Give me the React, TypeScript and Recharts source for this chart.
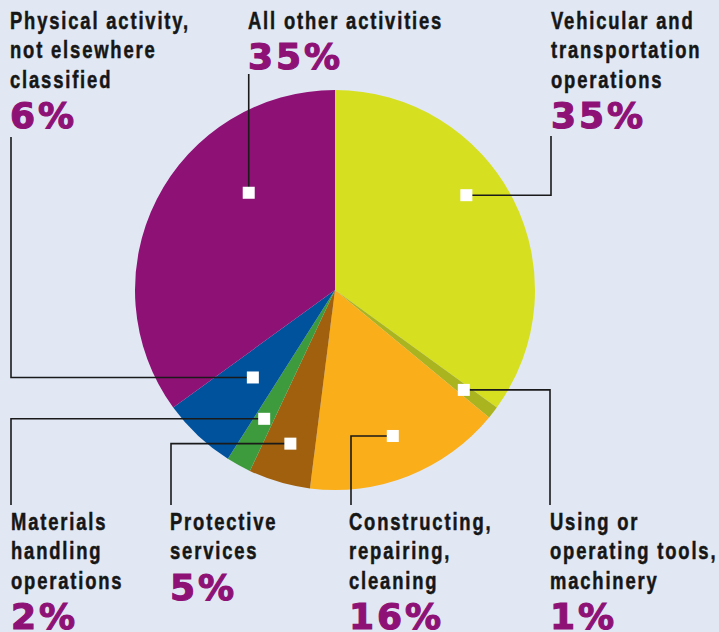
import React from 'react';
import { PieChart, Pie, Cell } from 'recharts';

// values (percent of cases)
const categories = [
  'Vehicular and transportation operations',
  'Using or operating tools, machinery',
  'Constructing, repairing, cleaning',
  'Protective services',
  'Materials handling operations',
  'Physical activity, not elsewhere classified',
  'All other activities',
];
const shares = [35, 1, 16, 5, 2, 6, 35];
const labelLines = [
  ['Vehicular and', 'transportation', 'operations'],
  ['Using or', 'operating tools,', 'machinery'],
  ['Constructing,', 'repairing,', 'cleaning'],
  ['Protective', 'services'],
  ['Materials', 'handling', 'operations'],
  ['Physical activity,', 'not elsewhere', 'classified'],
  ['All other activities'],
];
const colors = ['#d7df21', '#a9b41f', '#f9ae1a', '#a1600e', '#3e9b3d', '#00529c', '#8e1176'];

// where the white marker sits in each slice, and where the callout text goes
const layout = [
  { at: 0.43, r: 0.81, lineX: 551, endY: 136, textX: 551, textY: 29 },
  { at: 0.5, r: 0.815, lineX: 550, endY: 505, textX: 550, textY: 530 },
  { at: 0.5, r: 0.785, lineX: 351, endY: 505, textX: 349, textY: 530 },
  { at: 0.5, r: 0.8, lineX: 171, endY: 505, textX: 170, textY: 530 },
  { at: 0.5, r: 0.735, lineX: 11, endY: 505, textX: 11, textY: 530 },
  { at: 0.5, r: 0.6, lineX: 11, endY: 137, textX: 10, textY: 29 },
  { at: 0.67, r: 0.65, lineX: null, endY: 74, textX: 248, textY: 29 },
];

const data = categories.map((name, i) => ({ name, value: shares[i] }));

const RADIAN = Math.PI / 180;
const LINE_H = 29.5;
const SQUEEZE = 0.8; // condensed look for the label face

const renderCallout = (props: any) => {
  const { cx, cy, outerRadius, startAngle, endAngle, midAngle, index } = props;
  const l = layout[index];
  const ang =
    startAngle !== undefined && endAngle !== undefined
      ? startAngle + (endAngle - startAngle) * l.at
      : midAngle;
  const mx = cx + outerRadius * l.r * Math.cos(-ang * RADIAN);
  const my = cy + outerRadius * l.r * Math.sin(-ang * RADIAN);
  const lx = l.lineX === null ? mx : l.lineX;
  const lines = labelLines[index];
  const pctY = l.textY + (lines.length - 1) * LINE_H + 40;
  return (
    <g key={`callout-${index}`}>
      <polyline
        points={`${mx},${my} ${lx},${my} ${lx},${l.endY}`}
        fill="none"
        stroke="#1a1a1a"
        strokeWidth={1.6}
      />
      <rect x={mx - 6} y={my - 6} width={12} height={12} fill="#ffffff" />
      <g transform={`translate(${l.textX},0) scale(${SQUEEZE},1)`}>
        <text
          x={0}
          y={l.textY}
          fill="#161616"
          stroke="#161616"
          strokeWidth={0.5}
          fontFamily="'Liberation Sans', Arial, sans-serif"
          fontWeight={700}
          fontSize={23}
          letterSpacing={2.3}
        >
          {lines.map((t, k) => (
            <tspan key={k} x={0} y={l.textY + k * LINE_H}>
              {t}
            </tspan>
          ))}
        </text>
      </g>
      <text
        x={l.textX}
        y={pctY}
        fill="#8e1176"
        stroke="#8e1176"
        strokeWidth={1.2}
        fontFamily="'DejaVu Sans', sans-serif"
        fontWeight={700}
        fontSize={36}
        letterSpacing={3}
      >
        {`${shares[index]}%`}
      </text>
    </g>
  );
};

export default function App() {
  return (
    <div
      style={{
        position: 'fixed',
        top: 0,
        left: 0,
        width: 719,
        height: 632,
        background: '#e1e8f4',
      }}
    >
      <PieChart width={719} height={632} margin={{ top: 0, right: 0, bottom: 0, left: 0 }}>
        <Pie
          data={data}
          dataKey="value"
          nameKey="name"
          cx={335}
          cy={290}
          outerRadius={200}
          startAngle={90}
          endAngle={-270}
          stroke="none"
          labelLine={false}
          label={renderCallout}
          isAnimationActive={false}
        >
          {data.map((entry, index) => (
            <Cell key={`cell-${index}`} fill={colors[index]} />
          ))}
        </Pie>
      </PieChart>
    </div>
  );
}
